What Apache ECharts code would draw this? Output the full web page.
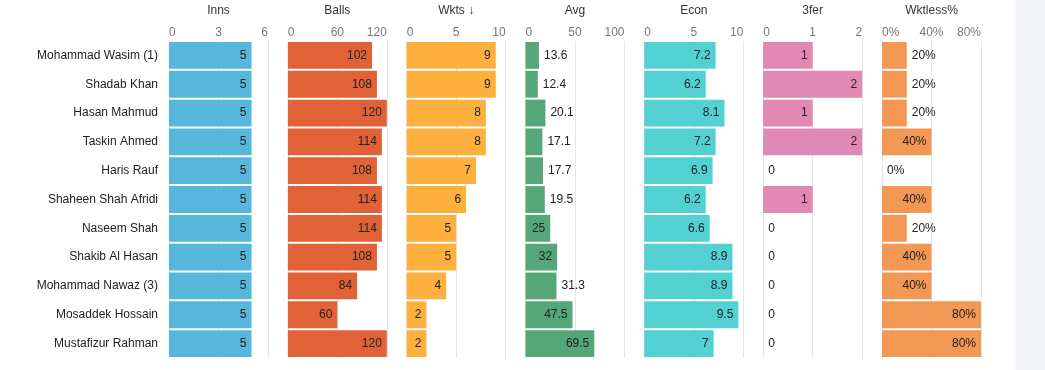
<!DOCTYPE html>
<html>
<head>
<meta charset="utf-8">
<script src="https://cdn.jsdelivr.net/npm/echarts@6/dist/echarts.min.js"></script>
<style>
html,body{margin:0;padding:0;background:#fff;}
#chart{width:1045px;height:370px;}
</style>
</head>
<body>
<div id="chart"></div>
<script>
const categories = ['Mohammad Wasim (1)','Shadab Khan','Hasan Mahmud','Taskin Ahmed','Haris Rauf','Shaheen Shah Afridi','Naseem Shah','Shakib Al Hasan','Mohammad Nawaz (3)','Mosaddek Hossain','Mustafizur Rahman'];
const inns = [5,5,5,5,5,5,5,5,5,5,5];
const balls = [102,108,120,114,108,114,114,108,84,60,120];
const wkts = [9,9,8,8,7,6,5,5,4,2,2];
const avg = [13.6,12.4,20.1,17.1,17.7,19.5,25,32,31.3,47.5,69.5];
const econ = [7.2,6.2,8.1,7.2,6.9,6.2,6.6,8.9,8.9,9.5,7];
const threeFer = [1,2,1,2,0,1,0,0,0,0,0];
const wktless = [20,20,20,40,0,40,20,40,40,80,80];

const innsTicks = [0,3,6];
const ballsTicks = [0,60,120];
const wktsTicks = [0,5,10];
const avgTicks = [0,50,100];
const econTicks = [0,5,10];
const threeFerTicks = [0,1,2];
const wktlessTicks = [0,40,80];

const panels = [
  {name:'Inns', data:inns, ticks:innsTicks, color:'#56b6dc', suffix:''},
  {name:'Balls', data:balls, ticks:ballsTicks, color:'#e06236', suffix:''},
  {name:'Wkts ↓', data:wkts, ticks:wktsTicks, color:'#feb03e', suffix:''},
  {name:'Avg', data:avg, ticks:avgTicks, color:'#55a678', suffix:''},
  {name:'Econ', data:econ, ticks:econTicks, color:'#52d0d2', suffix:''},
  {name:'3fer', data:threeFer, ticks:threeFerTicks, color:'#e189b4', suffix:''},
  {name:'Wktless%', data:wktless, ticks:wktlessTicks, color:'#f39754', suffix:'%'}
];

const FONT = '"Liberation Sans", Arial, sans-serif';
const mctx = document.createElement('canvas').getContext('2d');
mctx.font = '12px ' + FONT;

const LEFT0 = 169, STEP = 118.83, PW = 99, GTOP = 41, PH = 317;

const grids = [], xAxes = [], yAxes = [], seriesList = [];
panels.forEach((p, i) => {
  const max = p.ticks[p.ticks.length - 1];
  const interval = p.ticks[1] - p.ticks[0];
  grids.push({left: LEFT0 + i*STEP, width: PW, top: GTOP, height: PH, containLabel: false, outerBoundsMode: 'none'});
  xAxes.push({
    gridIndex: i, type: 'value', position: 'top', min: p.ticks[0], max: max, interval: interval,
    z: 0,
    name: p.name, nameLocation: 'middle', nameGap: 24,
    nameTextStyle: {color: '#333', fontSize: 12, fontFamily: FONT},
    axisLine: {show: false}, axisTick: {show: false},
    axisLabel: {color: '#777', fontSize: 12, fontFamily: FONT, margin: 2,
      alignMinLabel: 'left', alignMaxLabel: 'right',
      formatter: v => v + p.suffix},
    splitLine: {show: true, lineStyle: {color: '#e6e6e6', width: 1}}
  });
  yAxes.push({
    gridIndex: i, type: 'category', data: categories, inverse: true,
    z: 0,
    axisLine: {show: false}, axisTick: {show: false}, splitLine: {show: false},
    axisLabel: {show: i === 0, color: '#222', fontSize: 12, fontFamily: FONT, margin: 11}
  });
  const data = p.data.map(v => {
    const txt = v + p.suffix;
    const w = mctx.measureText(txt).width;
    const barPx = v / max * PW;
    const inside = w + 10 <= barPx;
    return {value: v, label: {position: inside ? 'insideRight' : 'right'}};
  });
  seriesList.push({
    type: 'bar', xAxisIndex: i, yAxisIndex: i, data: data,
    barCategoryGap: '7%', z: 5,
    itemStyle: {color: p.color, opacity: 1},
    label: {show: true, color: '#222', fontSize: 12, fontFamily: FONT, distance: 5,
      formatter: prm => prm.value + p.suffix},
    emphasis: {disabled: true}
  });
});

const chart = echarts.init(document.getElementById('chart'), null, {renderer: 'canvas'});
chart.setOption({
  animation: false,
  backgroundColor: '#fff',
  grid: grids, xAxis: xAxes, yAxis: yAxes, series: seriesList,
  graphic: [{type: 'rect', shape: {x: 1015, y: 0, width: 30, height: 370}, style: {fill: '#f3f5f9'}, silent: true}]
});
</script>
</body>
</html>
